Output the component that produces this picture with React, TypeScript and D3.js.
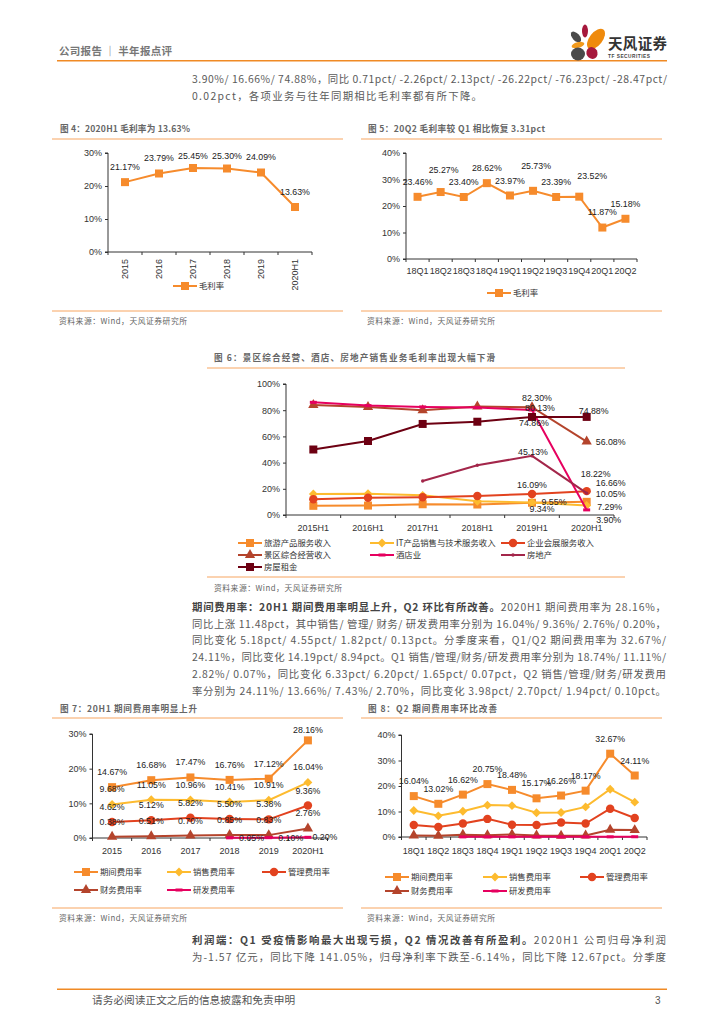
import React, { useEffect, useRef } from 'react';
import * as d3 from 'd3';

const LATIN = '"Liberation Sans", sans-serif';
const CJK = '"Noto Sans CJK SC", sans-serif';

// colours of the report
const ORANGE = '#f68b2c';
const RULE = '#f7a561';
const YELLOW = '#fdbb2f';
const RED = '#e2421f';
const BROWN = '#b4442c';
const PINK = '#e6005f';
const PLUM = '#a3264a';
const MAROON = '#6d0012';

// figure 4
const years = ['2015', '2016', '2017', '2018', '2019', '2020H1'];
const grossMargin = [21.17, 23.79, 25.45, 25.3, 24.09, 13.63];

// figure 5
const quarters = ['18Q1', '18Q2', '18Q3', '18Q4', '19Q1', '19Q2', '19Q3', '19Q4', '20Q1', '20Q2'];
const grossMarginQ = [23.46, 25.27, 23.4, 28.62, 23.97, 25.73, 23.39, 23.52, 11.87, 15.18];

// figure 6
const halves = ['2015H1', '2016H1', '2017H1', '2018H1', '2019H1', '2020H1'];
const tourism = [7, 7.2, 8.2, 8, 9.34, 10.05];
const itService = [16, 16.2, 15, 10.5, 9.55, 7.29];
const convention = [12, 13.2, 13.5, 14.5, 16.09, 18.22];
const scenic = [84, 82.5, 80, 82.8, 82.3, 56.08];
const hotel = [86, 83.5, 82.5, 82, 80.13, 3.9];
const realEstate = [null, null, 26, 38, 45.13, 16.66];
const rent = [50, 56.5, 69.5, 71.2, 74.86, 74.88];

// figure 7
const expense = [14.67, 16.68, 17.47, 16.76, 17.12, 28.16];
const selling = [9.68, 11.05, 10.96, 10.41, 10.91, 16.04];
const admin = [4.62, 5.12, 5.82, 5.5, 5.38, 9.36];
const finance = [0.38, 0.51, 0.7, 0.85, 0.83, 2.76];
const research = [null, null, null, 0.05, 0.1, 0.2];

// figure 8
const expenseQ = [16.04, 13.02, 16.62, 20.75, 18.48, 15.17, 16.26, 18.17, 32.67, 24.11];
const sellingQ = [10.4, 8.3, 10.1, 12.5, 12.3, 9.5, 9.6, 11.8, 18.74, 13.66];
const adminQ = [4.7, 3.9, 5.3, 7.1, 4.8, 4.7, 5.7, 5.3, 11.11, 7.43];
const financeQ = [0.6, 0.5, 0.9, 0.7, 1, 0.6, 0.5, 0.6, 2.82, 2.7];
const researchQ = [null, null, 0.05, 0.05, 0.05, 0.05, 0.05, 0.05, 0.07, 0.1];

// label nudges in pixels, apart from the values: [dx, dy] per point
const up = (n: number) => Array.from({ length: n }, () => [0, -15]);
const fig4Nudge = [[0, -15], [0, -15.5], [0, -12], [0, -12.5], [0, -15.5], [0, -15]];
const fig5Nudge = [[0, -15], [3, -22], [0, -15], [0, -15], [0, -14.5], [3, -25], [0, -15], [13, -21], [0, -15.5], [0, -15]];
const fig7Low = [[0, -15], [0, -15], [0, -15], [22, 0], [22, 0], [17, 0]];

type Series = {
  name: string;
  values: (number | null)[];
  color: string;
  marker: 'square' | 'diamond' | 'circle' | 'triangle' | 'dash' | 'dot';
  labels?: (string | null)[];
  nudge?: number[][];
};

type ChartCfg = {
  cats: string[];
  series: Series[];
  yMax: number;
  yTicks: number[];
  x: [number, number];
  y: [number, number];
  rotate?: boolean;
  tickLabelY: number;
  legend: { x: number; y: number }[];
};

const pct = (v: (number | null)[]) => v.map(d => (d === null ? null : d.toFixed(2) + '%'));

const fig4: ChartCfg = {
  cats: years, yMax: 30, yTicks: [0, 10, 20, 30], x: [108, 312], y: [252, 153], rotate: true, tickLabelY: 259,
  series: [{ name: '毛利率', values: grossMargin, color: ORANGE, marker: 'square', labels: pct(grossMargin), nudge: fig4Nudge }],
  legend: [{ x: 173, y: 286 }],
};

const fig5: ChartCfg = {
  cats: quarters, yMax: 40, yTicks: [0, 10, 20, 30, 40], x: [406, 637], y: [259, 153], tickLabelY: 271,
  series: [{ name: '毛利率', values: grossMarginQ, color: ORANGE, marker: 'square', labels: pct(grossMarginQ), nudge: fig5Nudge }],
  legend: [{ x: 487, y: 293 }],
};

const fig6: ChartCfg = {
  cats: halves, yMax: 100, yTicks: [0, 20, 40, 60, 80, 100], x: [286, 614], y: [515, 384], tickLabelY: 528,
  series: [
    { name: '旅游产品服务收入', values: tourism, color: ORANGE, marker: 'square', labels: [null, null, null, null, '9.34%', '10.05%'], nudge: [[], [], [], [], [10, 6], [24, -8]] },
    { name: 'IT产品销售与技术服务收入', values: itService, color: YELLOW, marker: 'diamond', labels: [null, null, null, null, '9.55%', '7.29%'], nudge: [[], [], [], [], [22, 0], [23, 2]] },
    { name: '企业会展服务收入', values: convention, color: RED, marker: 'circle', labels: [null, null, null, null, '16.09%', '18.22%'], nudge: [[], [], [], [], [0, -9], [9, -17]] },
    { name: '景区综合经营收入', values: scenic, color: BROWN, marker: 'triangle', labels: [null, null, null, null, '82.30%', '56.08%'], nudge: [[], [], [], [], [5, -9], [24, 0]] },
    { name: '酒店业', values: hotel, color: PINK, marker: 'dash', labels: [null, null, null, null, '80.13%', '3.90%'], nudge: [[], [], [], [], [8, -2], [22, 10]] },
    { name: '房地产', values: realEstate, color: PLUM, marker: 'dot', labels: [null, null, null, null, '45.13%', '16.66%'], nudge: [[], [], [], [], [1, -4], [24, -10]] },
    { name: '房屋租金', values: rent, color: MAROON, marker: 'square', labels: [null, null, null, null, '74.86%', '74.88%'], nudge: [[], [], [], [], [2, 6], [7, -6]] },
  ],
  legend: [{ x: 238, y: 543 }, { x: 370, y: 543 }, { x: 501, y: 543 }, { x: 238, y: 555 }, { x: 370, y: 555 }, { x: 501, y: 555 }, { x: 238, y: 567 }],
};

const fig7: ChartCfg = {
  cats: years, yMax: 30, yTicks: [0, 10, 20, 30], x: [92.5, 327.5], y: [838, 734], tickLabelY: 851,
  series: [
    { name: '期间费用率', values: expense, color: ORANGE, marker: 'square', labels: pct(expense), nudge: [[0, -15], [0, -15], [0, -15], [0, -15], [0, -15], [0, -10]] },
    { name: '销售费用率', values: selling, color: YELLOW, marker: 'diamond', labels: pct(selling), nudge: up(6) },
    { name: '管理费用率', values: admin, color: RED, marker: 'circle', labels: pct(admin), nudge: up(6) },
    { name: '财务费用率', values: finance, color: BROWN, marker: 'triangle', labels: pct(finance), nudge: up(6) },
    { name: '研发费用率', values: research, color: PINK, marker: 'dash', labels: pct(research), nudge: fig7Low },
  ],
  legend: [{ x: 74, y: 872 }, { x: 167, y: 872 }, { x: 262, y: 872 }, { x: 74, y: 890 }, { x: 167, y: 890 }],
};

const fig8: ChartCfg = {
  cats: quarters, yMax: 40, yTicks: [0, 10, 20, 30, 40], x: [401.5, 647], y: [837, 735], tickLabelY: 851,
  series: [
    { name: '期间费用率', values: expenseQ, color: ORANGE, marker: 'square', labels: pct(expenseQ), nudge: up(10) },
    { name: '销售费用率', values: sellingQ, color: YELLOW, marker: 'diamond' },
    { name: '管理费用率', values: adminQ, color: RED, marker: 'circle' },
    { name: '财务费用率', values: financeQ, color: BROWN, marker: 'triangle' },
    { name: '研发费用率', values: researchQ, color: PINK, marker: 'dash' },
  ],
  legend: [{ x: 385, y: 877 }, { x: 483, y: 877 }, { x: 580, y: 877 }, { x: 385, y: 891 }, { x: 483, y: 891 }],
};

// text blocks: [x, baseline, width, bold part, regular part]
const bodyLines: [number, number, number, string, string][] = [
  [192, 83, 475, '', '3.90%/ 16.66%/ 74.88%，同比 0.71pct/ -2.26pct/ 2.13pct/ -26.22pct/ -76.23pct/ -28.47pct/'],
  [192, 100, 290, '', '0.02pct，各项业务与往年同期相比毛利率都有所下降。'],
  [192, 611, 474, '期间费用率：20H1 期间费用率明显上升，Q2 环比有所改善。', '2020H1 期间费用率为 28.16%，'],
  [192, 628, 474, '', '同比上涨 11.48pct，其中销售/ 管理/ 财务/ 研发费用率分别为 16.04%/ 9.36%/ 2.76%/ 0.20%，'],
  [192, 644, 474, '', '同比变化 5.18pct/ 4.55pct/ 1.82pct/ 0.13pct。分季度来看，Q1/Q2 期间费用率为 32.67%/'],
  [192, 661, 474, '', '24.11%，同比变化 14.19pct/ 8.94pct。Q1 销售/管理/财务/研发费用率分别为 18.74%/ 11.11%/'],
  [192, 678, 474, '', '2.82%/ 0.07%，同比变化 6.33pct/ 6.20pct/ 1.65pct/ 0.07pct，Q2 销售/管理/财务/研发费用'],
  [192, 695, 474, '', '率分别为 24.11%/ 13.66%/ 7.43%/ 2.70%，同比变化 3.98pct/ 2.70pct/ 1.94pct/ 0.10pct。'],
  [192, 944, 474, '利润端：Q1 受疫情影响最大出现亏损，Q2 情况改善有所盈利。', '2020H1 公司归母净利润'],
  [192, 961, 474, '', '为-1.57 亿元，同比下降 141.05%，归母净利率下跌至-6.14%，同比下降 12.67pct。分季度'],
];

const panelTitles: [number, number, number, string][] = [
  [60, 132, 130, '图 4：2020H1 毛利率为 13.63%'],
  [368, 132, 177, '图 5：20Q2 毛利率较 Q1 相比恢复 3.31pct'],
  [214, 361, 281, '图 6：景区综合经营、酒店、房地产销售业务毛利率出现大幅下滑'],
  [60, 712, 137, '图 7：20H1 期间费用率明显上升'],
  [368, 712, 129, '图 8：Q2 期间费用率环比改善'],
];

const sources: [number, number][] = [[59, 324], [367, 324], [214, 591], [59, 921], [367, 921]];

const rules: [number, number, number][] = [
  [52, 343, 139], [361, 662, 139], [52, 343, 311], [361, 662, 311],
  [207, 625, 368], [207, 625, 577],
  [52, 343, 718], [361, 662, 718], [52, 343, 908], [361, 662, 908],
];

// logo petals: colour, cx, cy, rx, ry, rotation
const petals: [string, number, number, number, number, number][] = [
  ['#ef8a0c', 596, 39, 6.5, 12, 38],
  ['#a6183c', 585, 31, 3, 6.5, 0],
  ['#4a4a4a', 576, 37, 3.6, 6.5, -42],
  ['#f29a1c', 578, 45, 6.5, 2.8, -15],
  ['#4a4a4a', 578, 54, 7, 6.5, 0],
  ['#a6183c', 592, 53, 5.5, 6, -30],
];

function addMarker(g: d3.Selection<any, any, any, any>, kind: Series['marker'], color: string, cx: number, cy: number) {
  if (kind === 'dash') {
    g.append('rect').attr('x', cx - 3.5).attr('y', cy - 1.5).attr('width', 7).attr('height', 3).attr('fill', color);
    return;
  }
  const shapes = {
    square: [d3.symbolSquare, 64],
    diamond: [d3.symbolDiamond2, 50],
    circle: [d3.symbolCircle, 56],
    triangle: [d3.symbolTriangle, 46],
    dot: [d3.symbolCircle, 9],
  } as const;
  const [type, size] = shapes[kind];
  g.append('path')
    .attr('d', d3.symbol().type(type).size(size)() as string)
    .attr('transform', 'translate(' + cx + ',' + cy + ')')
    .attr('fill', color);
}

function drawChart(root: d3.Selection<any, any, any, any>, cfg: ChartCfg) {
  const x = d3.scaleBand().domain(cfg.cats).range(cfg.x);
  const y = d3.scaleLinear().domain([0, cfg.yMax]).range(cfg.y);
  const g = root.append('g');

  // y axis
  const yAxis = g.append('g')
    .attr('transform', 'translate(' + cfg.x[0] + ',0)')
    .call(d3.axisLeft(y).tickValues(cfg.yTicks).tickSize(3).tickPadding(3).tickFormat(d => d + '%'));
  yAxis.selectAll('text').attr('font-family', LATIN).attr('font-size', 9).attr('fill', '#333');
  yAxis.selectAll('line,path').attr('stroke', '#333');
  yAxis.select('path').attr('d', 'M-3,' + cfg.y[1] + 'H0V' + cfg.y[0] + 'H-3');

  // x axis, ticks sit between the categories
  const xAxis = g.append('g')
    .attr('transform', 'translate(0,' + cfg.y[0] + ')')
    .call(d3.axisBottom(x).tickSize(0).tickPadding(0));
  xAxis.select('path').attr('stroke', '#333').attr('d', 'M' + cfg.x[0] + ',0H' + cfg.x[1]);
  xAxis.selectAll('.tick text').remove();
  xAxis.selectAll('.edge')
    .data(d3.range(cfg.cats.length + 1))
    .enter()
    .append('line')
    .attr('x1', d => cfg.x[0] + d * x.step())
    .attr('x2', d => cfg.x[0] + d * x.step())
    .attr('y2', 3)
    .attr('stroke', '#333');

  const px = (c: string) => (x(c) as number) + x.bandwidth() / 2;

  cfg.cats.forEach(c => {
    const t = g.append('text')
      .text(c)
      .attr('font-family', LATIN)
      .attr('font-size', 9)
      .attr('fill', '#333');
    if (cfg.rotate) {
      t.attr('text-anchor', 'end').attr('transform', 'translate(' + (px(c) + 3) + ',' + cfg.tickLabelY + ') rotate(-90)');
    } else {
      t.attr('text-anchor', 'middle').attr('x', px(c)).attr('y', cfg.tickLabelY + 3);
    }
  });

  const line = d3.line<number | null>()
    .defined(d => d !== null)
    .x((_, i) => px(cfg.cats[i]))
    .y(d => y(d as number));

  cfg.series.forEach(s => {
    g.append('path')
      .attr('d', line(s.values))
      .attr('fill', 'none')
      .attr('stroke', s.color)
      .attr('stroke-width', 2);
    s.values.forEach((v, i) => {
      if (v !== null) addMarker(g, s.marker, s.color, px(cfg.cats[i]), y(v));
    });
  });

  // labels go on top of every line
  cfg.series.forEach(s => {
    s.values.forEach((v, i) => {
      const label = s.labels && s.labels[i];
      if (v === null || !label) return;
      const n = (s.nudge && s.nudge[i]) || [0, -15];
      g.append('text')
        .text(label)
        .attr('x', px(cfg.cats[i]) + n[0])
        .attr('y', y(v) + n[1] + 3)
        .attr('text-anchor', 'middle')
        .attr('font-family', LATIN)
        .attr('font-size', 8.8)
        .attr('fill', '#222');
    });
  });

  // legend
  cfg.series.forEach((s, i) => {
    const pos = cfg.legend[i];
    g.append('line')
      .attr('x1', pos.x).attr('x2', pos.x + 24)
      .attr('y1', pos.y).attr('y2', pos.y)
      .attr('stroke', s.color).attr('stroke-width', 2);
    addMarker(g, s.marker, s.color, pos.x + 12, pos.y);
    g.append('text')
      .text(s.name)
      .attr('x', pos.x + 26)
      .attr('y', pos.y + 3)
      .attr('font-family', CJK)
      .attr('font-size', 8.4)
      .attr('fill', '#333');
  });
}

function drawPage(elm: SVGSVGElement) {
  const svg = d3.select(elm);
  svg.selectAll('*').remove();

  // header
  svg.append('text').text('公司报告 ｜ 半年报点评')
    .attr('x', 59).attr('y', 55).attr('font-family', CJK).attr('font-size', 10.5)
    .attr('font-weight', 700).attr('fill', '#777').attr('textLength', 113);
  svg.append('rect').attr('x', 57).attr('y', 60).attr('width', 610).attr('height', 1.5).attr('fill', '#f08a24');

  petals.forEach(p => {
    svg.append('ellipse')
      .attr('rx', p[3]).attr('ry', p[4])
      .attr('transform', 'translate(' + p[1] + ',' + p[2] + ') rotate(' + p[5] + ')')
      .attr('fill', p[0]);
  });
  svg.append('text').text('天风证券')
    .attr('x', 608).attr('y', 49).attr('font-family', CJK).attr('font-size', 14.5)
    .attr('font-weight', 700).attr('fill', '#333').attr('textLength', 59);
  svg.append('text').text('TF SECURITIES')
    .attr('x', 608).attr('y', 58).attr('font-family', LATIN).attr('font-size', 4.8)
    .attr('font-weight', 700).attr('fill', '#444').attr('textLength', 42);

  // paragraphs
  bodyLines.forEach(b => {
    const t = svg.append('text')
      .attr('x', b[0]).attr('y', b[1])
      .attr('font-family', CJK).attr('font-size', 10.4).attr('fill', '#5a5a5a')
      .attr('textLength', b[2]);
    if (b[3]) t.append('tspan').text(b[3]).attr('font-weight', 700).attr('fill', '#444');
    t.append('tspan').text(b[4]);
  });

  rules.forEach(r => {
    svg.append('line').attr('x1', r[0]).attr('x2', r[1]).attr('y1', r[2]).attr('y2', r[2])
      .attr('stroke', RULE).attr('stroke-width', 1);
  });

  panelTitles.forEach(p => {
    svg.append('text').text(p[3])
      .attr('x', p[0]).attr('y', p[1])
      .attr('font-family', CJK).attr('font-size', 8.6).attr('font-weight', 700).attr('fill', '#666')
      .attr('textLength', p[2]);
  });

  sources.forEach(s => {
    svg.append('text').text('资料来源：Wind，天风证券研究所')
      .attr('x', s[0]).attr('y', s[1])
      .attr('font-family', CJK).attr('font-size', 7.8).attr('fill', '#666')
      .attr('textLength', 128);
  });

  [fig4, fig5, fig6, fig7, fig8].forEach(cfg => drawChart(svg, cfg));

  // footer
  svg.append('rect').attr('x', 57).attr('y', 988.5).attr('width', 610).attr('height', 1.5).attr('fill', '#f08a24');
  svg.append('text').text('请务必阅读正文之后的信息披露和免责申明')
    .attr('x', 92).attr('y', 1004).attr('font-family', CJK).attr('font-size', 10.7).attr('fill', '#555');
  svg.append('text').text('3')
    .attr('x', 655).attr('y', 1004).attr('font-family', LATIN).attr('font-size', 10).attr('fill', '#555');
}

export default function App() {
  const svgRef = useRef<SVGSVGElement>(null);

  useEffect(() => {
    if (svgRef.current) {
      drawPage(svgRef.current);
    }
  }, []);

  return (
    <svg
      ref={svgRef}
      width={724}
      height={1024}
      style={{ position: 'absolute', left: 0, top: 0, background: '#fff' }}
    />
  );
}
